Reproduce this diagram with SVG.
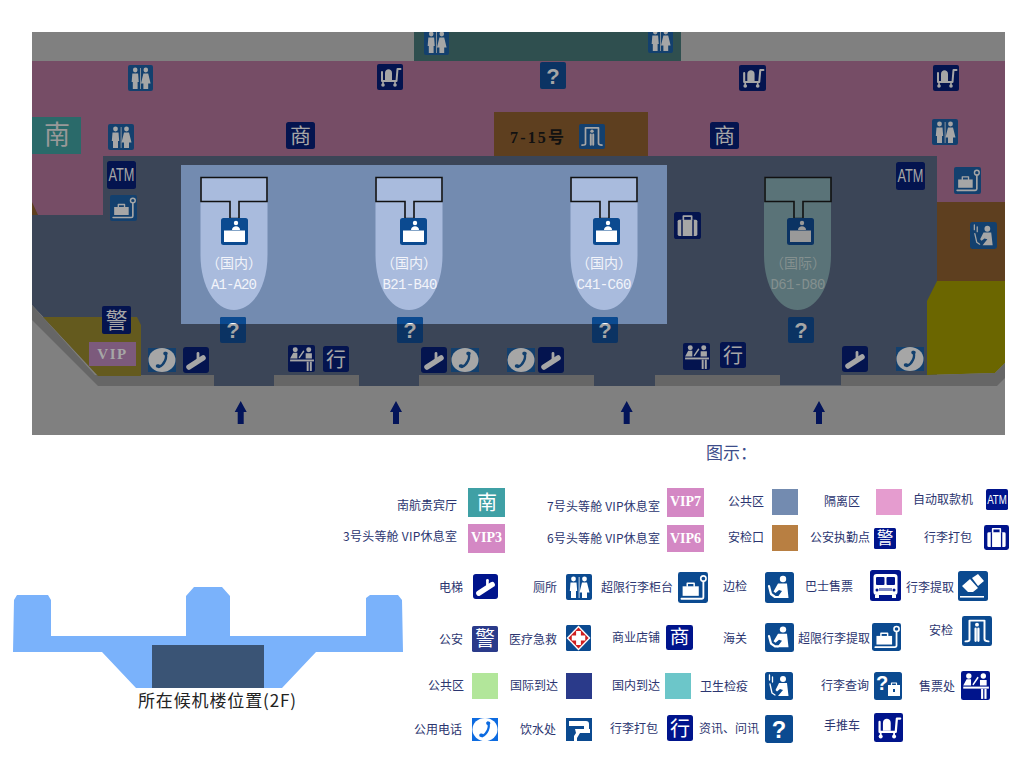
<svg xmlns="http://www.w3.org/2000/svg" width="1032" height="781" viewBox="0 0 1032 781">
<style>
text{font-family:"Noto Sans CJK SC","Liberation Sans",sans-serif}
.l{font-size:12px;fill:#2b3570;text-anchor:end}
.g{fill:var(--g)}
.s{fill:none;stroke:var(--g);stroke-linecap:round;stroke-linejoin:round}
.b{fill:currentColor}
.mb{color:#13406e;--g:#a6a6a6}
.mn{color:#04144f;--g:#a6a6a6}
.mq{color:#0b3363;--g:#a6a6a6}
.hq{color:#0b4a90;--g:#fff}
.lb{color:#0b4a90;--g:#fff}
.ln{color:#00148c;--g:#fff}
.lp{color:#2a3a8a;--g:#fff}
.lt{color:#0d6be0;--g:#fff}
.bay{fill:#a9bbdd}
.bay4{fill:#5a7378}
.frame{stroke:#111;stroke-width:1.6}
.bt{font-size:14px;text-anchor:middle;fill:#f2f4fa}
.bc{font-family:"Liberation Mono",monospace;font-size:14px;text-anchor:middle;fill:#f2f4fa}
.vt{font-family:"Liberation Serif",serif;font-weight:bold;font-size:14px;fill:#fff;text-anchor:middle}
.arrow{fill:#03145a}
</style>
<defs>
<clipPath id="mapclip"><rect x="32" y="32" width="973" height="403"/></clipPath>
<clipPath id="blueclip"><rect x="181" y="165" width="486" height="159"/></clipPath>
<symbol id="toilet" viewBox="0 0 26 26" preserveAspectRatio="none"><rect class="b" width="26" height="26" rx="2"/><circle class="g" cx="7.500" cy="5" r="2.400"/><path class="g" d="M4.500 8.500h6l.7 8.500H10v7H5v-7H3.800z"/><rect class="g" x="12.700" y="3" width=".8" height="21"/><circle class="g" cx="18.500" cy="5" r="2.400"/><path class="g" d="M16 8.500h5l2.500 10H21v5.500h-5v-5.500h-2.500z"/></symbol>
<symbol id="cart" viewBox="0 0 26 26" preserveAspectRatio="none"><rect class="b" width="26" height="26" rx="2"/><path class="g" d="M8 9c0-5 7-5 7 0v7H8z"/><path class="s" stroke-width="2" d="M23.500 5h-3l-1 12H5V8"/><path class="s" stroke-width="1.600" d="M6 17v3M18 17v3"/><circle class="g" cx="6" cy="21" r="1.800"/><circle class="g" cx="18" cy="21" r="1.800"/></symbol>
<symbol id="atm" viewBox="0 0 29 28" preserveAspectRatio="none"><rect class="b" width="29" height="28" rx="2.500"/><text class="g" x="1.500" y="20" font-size="18" textLength="26" lengthAdjust="spacingAndGlyphs" style="font-family:'Liberation Sans',sans-serif">ATM</text></symbol>
<symbol id="scale" viewBox="0 0 26 26" preserveAspectRatio="none"><rect class="b" width="26" height="26" rx="2"/><rect class="g" x="4" y="12" width="14" height="8"/><path class="s" stroke-width="1.300" d="M8 12V9.500h6V12"/><path class="s" stroke-width="1.600" d="M3 22.500h17.500a1.500 1.500 0 0 0 1.500-1.500V8"/><circle class="s" stroke-width="1.400" cx="22" cy="5.500" r="2.300"/></symbol>
<symbol id="question" viewBox="0 0 26 26" preserveAspectRatio="none"><rect class="b" width="26" height="26" rx="2"/><text class="g" x="13" y="21" font-size="22" font-weight="bold" text-anchor="middle" style="font-family:'Liberation Sans',sans-serif">?</text></symbol>
<symbol id="door" viewBox="0 0 26 26" preserveAspectRatio="none"><rect class="b" width="26" height="26" rx="2"/><path class="s" stroke-width="1.700" d="M6.500 20.500V4h13v16c0 1.500 1 2 3.500 2M6.500 20.500c0 1-1 1.500-3.500 1.500"/><circle class="g" cx="13" cy="7.500" r="1.700"/><path class="s" stroke-width="2" d="M11.800 11v10.500M14.200 11v10.500"/></symbol>
<symbol id="esc" viewBox="0 0 26 26" preserveAspectRatio="none"><rect class="b" width="26" height="26" rx="3"/><path class="s" stroke-width="5.500" d="M6 20l14-9"/><path class="s" stroke-width="2.800" d="M15 6.500v7"/></symbol>
<symbol id="phone" viewBox="0 0 28 24" preserveAspectRatio="none"><rect class="b" width="28" height="24"/><ellipse class="g" cx="14" cy="12" rx="13.500" ry="12"/><path fill="none" stroke="currentColor" stroke-width="2.400" stroke-linecap="round" d="M17 5c3 4-1 12-6 14"/><path fill="none" stroke="currentColor" stroke-width="3.500" stroke-linecap="round" d="M17 5.500h1M9.500 18h1"/></symbol>
<symbol id="ticket" viewBox="0 0 26 26" preserveAspectRatio="none"><rect class="b" width="26" height="26" rx="2"/><circle class="g" cx="7" cy="4.500" r="2.400"/><circle class="g" cx="20" cy="4.500" r="2.400"/><path class="g" d="M2 13l3-5.500h4L9 13zM17 8h6v5h-6z"/><path class="s" stroke-width="1.400" d="M11 12l4-6"/><rect class="g" x="2" y="14" width="23" height="1.800"/><rect class="g" x="18" y="16" width="1.900" height="9"/><rect class="g" x="21" y="16" width="1.900" height="9"/></symbol>
<symbol id="xing" viewBox="0 0 26 26" preserveAspectRatio="none"><rect class="b" width="26" height="26" rx="2.500"/><text class="g" x="13" y="20.500" font-size="20" text-anchor="middle">行</text></symbol>
<symbol id="shang" viewBox="0 0 29 27" preserveAspectRatio="none"><rect class="b" width="29" height="27" rx="2.500"/><text class="g" x="14.500" y="21" font-size="21" text-anchor="middle">商</text></symbol>
<symbol id="jing" viewBox="0 0 29 28" preserveAspectRatio="none"><rect class="b" width="29" height="28" rx="2"/><text class="g" x="14.500" y="21.500" font-size="22" text-anchor="middle">警</text></symbol>
<symbol id="case" viewBox="0 0 26 26" preserveAspectRatio="none"><rect class="b" width="26" height="26" rx="2.500"/><rect class="g" x="3.500" y="7.500" width="19" height="15.500" rx="1.500"/><path class="s" stroke-width="1.600" d="M9 7.500V4h8v3.500"/><rect class="b" x="7" y="7.500" width="1.400" height="15.500"/><rect class="b" x="17.600" y="7.500" width="1.400" height="15.500"/></symbol>
<symbol id="desk" viewBox="0 0 27 27" preserveAspectRatio="none"><rect class="b" width="27" height="27" rx="2.500"/><circle class="g" cx="15" cy="5" r="2.200"/><path class="g" d="M11 12c0-5 8-5 8 0z"/><path class="g" d="M3 12.500h21V24H3z"/></symbol>
<symbol id="officer" viewBox="0 0 29 31" preserveAspectRatio="none"><rect class="b" width="29" height="31" rx="2.500"/><circle class="g" cx="18" cy="7" r="3.200"/><path class="g" d="M13 11.500h9l1.500 14.500H12l5-7-3-1-3.500 3-2-1.500z"/><path class="s" stroke-width="2.200" d="M4 14l2 8 4 3h3"/></symbol>
<symbol id="health" viewBox="0 0 28 28" preserveAspectRatio="none"><rect class="b" width="28" height="28" rx="2.500"/><circle class="g" cx="18" cy="7" r="3"/><path class="g" d="M14 11h8l1.500 13H13l5-6-3-1-3 2.500-1.500-1.500z"/><path class="s" stroke-width="1.300" d="M4.500 3v5M7.500 5v5M5 12l2 9 3 2"/></symbol>
<symbol id="bus" viewBox="0 0 31 31" preserveAspectRatio="none"><rect class="b" width="31" height="31" rx="2.500"/><rect class="g" x="3.500" y="4" width="24" height="21" rx="3"/><rect class="b" x="6" y="7" width="8.500" height="8" rx="1"/><rect class="b" x="16.500" y="7" width="8.500" height="8" rx="1"/><rect class="b" x="9" y="18" width="13" height="3" opacity=".5"/><circle class="b" cx="7" cy="20" r="1.500"/><circle class="b" cx="24" cy="20" r="1.500"/><rect class="g" x="5" y="25" width="4" height="3"/><rect class="g" x="22" y="25" width="4" height="3"/></symbol>
<symbol id="claim" viewBox="0 0 30 30" preserveAspectRatio="none"><rect class="b" width="30" height="30" rx="2.500"/><path class="g" d="M4 15l8-7 8 9-5 4h-5zM14 7l6-4 6 7-6 5z"/><rect class="g" x="2" y="25" width="24" height="1.600"/></symbol>
<symbol id="medical" viewBox="0 0 26 26" preserveAspectRatio="none"><rect class="b" width="26" height="26" rx="1.500"/><path fill="#fff" d="M13 .5L25.500 13 13 25.500.5 13z"/><path fill="#cf1f1f" d="M13 2.500L23.500 13 13 23.500 2.500 13z"/><path fill="#fff" d="M10.500 6h5v4.500H20v5h-4.500V20h-5v-4.500H6v-5h4.500z"/></symbol>
<symbol id="water" viewBox="0 0 26 23" preserveAspectRatio="none"><rect class="b" width="26" height="23"/><path class="g" d="M3 3h17a3 3 0 0 1 3 3v5h-5V8H3zM9 11h15v4H14l-3 5v3H8v-5l2-3z"/></symbol>
<symbol id="bagq" viewBox="0 0 28 28" preserveAspectRatio="none"><rect class="b" width="28" height="28" rx="2.500"/><text class="g" x="8" y="18" font-size="20" font-weight="bold" text-anchor="middle" style="font-family:'Liberation Sans',sans-serif">?</text><rect class="g" x="14" y="13" width="12" height="11"/><path class="s" stroke-width="1.200" d="M17.500 13v-2h5v2"/><rect class="b" x="19" y="17" width="2" height="3"/></symbol>
</defs>

<g id="map" clip-path="url(#mapclip)">
<rect x="32" y="32" width="973" height="403" fill="#808080"/>
<rect id="top-zone" x="414" y="32" width="267" height="29" fill="#2f4f4f"/>
<rect id="isolation" x="32" y="61" width="973" height="170" fill="#764d66"/>
<path fill="#5e3f1f" d="M32 215v-13l6 13z"/>
<path id="public" fill="#3b4557" d="M32 215h71v-59h834v219H98L32 305z"/>
<rect x="937" y="202" width="68" height="79" fill="#5e3f1f"/>
<path fill="#6b6600" d="M927 375v-74l10-20h68v82l-10 10z"/>
<path fill="#3b4557" d="M214 375h60v11h-60zM359 375h60v11h-60zM594 375h61v11h-61zM780 375h61v10.500h-61z"/>
<path fill="#666" d="M32 305l63 70h119v11H98L32 320zM274 375h85v11h-85zM419 375h175v11H419zM655 375h125v11H655zM841 375h86l68-2 10-10v15l-8 8H841z"/>
<path fill="#645a1e" d="M43 317h94l4 8v51H98z"/>
<rect x="89" y="342" width="47" height="24" fill="#7c5a7c"/>
<text x="112.500" y="359" text-anchor="middle" font-size="15" font-weight="bold" letter-spacing="1.500" fill="#a6a6a6" style="font-family:'Liberation Serif',serif">VIP</text>
<rect x="32" y="117" width="49" height="37" fill="#2a6a6a"/>
<text x="57" y="144" text-anchor="middle" font-size="26" fill="#999">南</text>
<rect x="494" y="112" width="154" height="44" fill="#5e3f1f"/>
<text x="510" y="143" font-size="16" font-weight="bold" fill="#111" textLength="54" style="font-family:'Liberation Serif','Noto Sans CJK SC',serif">7-15号</text>
<rect id="domestic" x="181" y="165" width="486" height="159" fill="#738bb0"/>

<g id="bay-a">
<path class="bay" d="M200.500 177h67v78c0 32-15 55-33.500 55s-33.500-23-33.500-55z"/>
<path class="bay frame" d="M201 177.500h66v24h-28v17h-9v-17h-29z"/>
<use href="#desk" class="hq" x="221" y="218" width="27" height="27"/>
<text class="bt" x="234" y="268">（国内）</text><text class="bc" x="234" y="289" textLength="46">A1-A20</text>
</g>
<g id="bay-b">
<path class="bay" d="M375.500 177h67v78c0 32-15 55-33.500 55s-33.500-23-33.500-55z"/>
<path class="bay frame" d="M376 177.500h66v24h-28v17h-9v-17h-29z"/>
<use href="#desk" class="hq" x="400" y="218" width="27" height="27"/>
<text class="bt" x="409" y="268">（国内）</text><text class="bc" x="410" y="289" textLength="55">B21-B40</text>
</g>
<g id="bay-c">
<path class="bay" d="M570.500 177h67v78c0 32-15 55-33.500 55s-33.500-23-33.500-55z"/>
<path class="bay frame" d="M571 177.500h66v24h-28v17h-9v-17h-29z"/>
<use href="#desk" class="hq" x="593" y="218" width="27" height="27"/>
<text class="bt" x="604" y="268">（国内）</text><text class="bc" x="604" y="289" textLength="55">C41-C60</text>
</g>
<g id="bay-d">
<path class="bay4" d="M764 177h67v78c0 32-15 55-33.500 55s-33.500-23-33.500-55z"/>
<path class="bay4 frame" d="M765 177.500h66v24h-28v17h-9v-17h-29z"/>
<use href="#desk" style="color:#0b3363;--g:#999" x="787" y="218" width="27" height="27"/>
<text class="bt" x="798" y="268" style="fill:#84908f">（国际）</text><text class="bc" x="798" y="289" textLength="55" style="fill:#84908f">D61-D80</text>
</g>

<g id="map-icons">
<use href="#toilet" class="mb" x="424" y="29" width="25" height="26"/>
<use href="#toilet" class="mb" x="648" y="27" width="25" height="26"/>
<use href="#toilet" class="mb" x="128" y="65" width="25" height="26"/>
<use href="#cart" class="mn" x="377" y="64" width="26" height="26"/>
<use href="#question" class="mq" x="540" y="62" width="26" height="27"/>
<use href="#cart" class="mn" x="739" y="65" width="27" height="26"/>
<use href="#cart" class="mn" x="933" y="65" width="26" height="26"/>
<use href="#toilet" class="mb" x="108" y="124" width="26" height="26"/>
<use href="#shang" class="mn" x="286" y="122" width="29" height="27"/>
<use href="#door" class="mb" x="579" y="124" width="26" height="25"/>
<use href="#shang" class="mn" x="710" y="122" width="29" height="27"/>
<use href="#toilet" class="mb" x="932" y="119" width="26" height="26"/>
<use href="#atm" class="mn" x="107" y="161" width="29" height="28"/>
<use href="#scale" class="mb" x="110" y="195" width="27" height="26"/>
<use href="#atm" class="mn" x="896" y="162" width="29" height="28"/>
<use href="#scale" class="mb" x="954" y="167" width="27" height="27"/>
<use href="#case" class="mn" x="674" y="212" width="27" height="27"/>
<use href="#health" class="mb" x="970" y="222" width="27" height="27"/>
<use href="#jing" class="mn" x="102" y="306" width="29" height="28"/>
<use href="#question" class="mq" x="220" y="317" width="26" height="26"/>
<use href="#question" class="mq" x="397" y="317" width="26" height="26"/>
<use href="#question" class="mq" x="592" y="317" width="26" height="26"/>
<use href="#question" class="mq" x="788" y="317" width="26" height="26"/>
<g clip-path="url(#blueclip)">
<use href="#question" class="hq" x="220" y="317" width="26" height="26"/>
<use href="#question" class="hq" x="397" y="317" width="26" height="26"/>
<use href="#question" class="hq" x="592" y="317" width="26" height="26"/>
</g>
<use href="#phone" class="mb" x="148" y="348" width="28" height="24"/>
<use href="#esc" class="mn" x="183" y="347" width="26" height="26"/>
<use href="#ticket" class="mn" x="288" y="345" width="27" height="27"/>
<use href="#xing" class="mn" x="323" y="346" width="26" height="26"/>
<use href="#esc" class="mn" x="421" y="347" width="26" height="26"/>
<use href="#phone" class="mb" x="451" y="348" width="28" height="24"/>
<use href="#phone" class="mb" x="507" y="348" width="28" height="24"/>
<use href="#esc" class="mn" x="538" y="347" width="26" height="26"/>
<use href="#ticket" class="mn" x="683" y="343" width="27" height="27"/>
<use href="#xing" class="mn" x="720" y="342" width="26" height="26"/>
<use href="#esc" class="mn" x="842" y="346" width="26" height="26"/>
<use href="#phone" class="mb" x="896" y="347" width="28" height="24"/>
</g>
<g id="arrows" class="arrow">
<path d="M240.700 401l6 11h-3v12h-6v-12h-3z"/>
<path d="M396 401l6 11h-3v12h-6v-12h-3z"/>
<path d="M626.700 401l6 11h-3v12h-6v-12h-3z"/>
<path d="M819 401l6 11h-3v12h-6v-12h-3z"/>
</g>
</g>

<text id="legend-title" x="706" y="459" font-size="17" fill="#3d4d8a">图示：</text>

<g id="legend">
<text class="l" x="457" y="510">南航贵宾厅</text>
<rect x="468" y="488" width="37" height="29" fill="#3fa0a5"/><text x="487" y="510" font-size="20" fill="#fff" text-anchor="middle">南</text>
<text class="l" x="457" y="541" textLength="114">3号头等舱 VIP休息室</text>
<rect x="468" y="524" width="37" height="29" fill="#d488c4"/><text class="vt" x="486.500" y="542">VIP3</text>
<text class="l" x="660" y="511" textLength="113">7号头等舱 VIP休息室</text>
<rect x="667" y="488" width="37" height="29" fill="#d488c4"/><text class="vt" x="685.500" y="506">VIP7</text>
<text class="l" x="660" y="543" textLength="113">6号头等舱 VIP休息室</text>
<rect x="667" y="525" width="37" height="27" fill="#d488c4"/><text class="vt" x="685.500" y="543">VIP6</text>
<text class="l" x="764" y="506">公共区</text><rect x="772" y="489" width="26" height="26" fill="#738bb0"/>
<text class="l" x="860" y="506">隔离区</text><rect x="876" y="489" width="26" height="26" fill="#e59ccf"/>
<text class="l" x="973" y="504">自动取款机</text><use href="#atm" class="ln" x="986" y="489" width="22" height="21"/>
<text class="l" x="764" y="542">安检口</text><rect x="772" y="525" width="26" height="26" fill="#b87f42"/>
<text class="l" x="870" y="542">公安执勤点</text><use href="#jing" class="ln" x="874" y="528" width="22" height="21"/>
<text class="l" x="972" y="542">行李打包</text><use href="#case" class="ln" x="984" y="525" width="25" height="25"/>

<text class="l" x="463" y="592">电梯</text><use href="#esc" class="ln" x="473" y="574" width="25" height="25"/>
<text class="l" x="557" y="592">厕所</text><use href="#toilet" class="lb" x="566" y="574" width="26" height="26"/>
<text class="l" x="673" y="592">超限行李柜台</text><use href="#scale" class="lb" x="678" y="572" width="30" height="31"/>
<text class="l" x="747" y="591">边检</text><use href="#officer" class="lb" x="765" y="572" width="29" height="31"/>
<text class="l" x="853" y="591">巴士售票</text><use href="#bus" class="ln" x="870" y="570" width="31" height="31"/>
<text class="l" x="954" y="592">行李提取</text><use href="#claim" class="lb" x="958" y="571" width="30" height="30"/>

<text class="l" x="463" y="644">公安</text><use href="#jing" class="lp" x="472" y="626" width="26" height="26"/>
<text class="l" x="557" y="644">医疗急救</text><use href="#medical" class="lb" x="566" y="625" width="25" height="26"/>
<text class="l" x="660" y="642">商业店铺</text><use href="#shang" class="ln" x="666" y="625" width="27" height="25"/>
<text class="l" x="747" y="643">海关</text><use href="#officer" class="lb" x="765" y="623" width="29" height="29"/>
<text class="l" x="870" y="643">超限行李提取</text><use href="#scale" class="lb" x="872" y="623" width="29" height="28"/>
<text class="l" x="953" y="635">安检</text><use href="#door" class="lb" x="962" y="616" width="30" height="30"/>

<text class="l" x="464" y="690">公共区</text><rect x="472" y="673" width="26" height="26" fill="#b2e69a"/>
<text class="l" x="558" y="690">国际到达</text><rect x="566" y="673" width="26" height="26" fill="#2a3a8a"/>
<text class="l" x="660" y="690">国内到达</text><rect x="665" y="673" width="26" height="26" fill="#6cc6c9"/>
<text class="l" x="748" y="691">卫生检疫</text><use href="#health" class="lb" x="765" y="672" width="28" height="28"/>
<text class="l" x="869" y="690">行李查询</text><use href="#bagq" class="lb" x="874" y="672" width="28" height="28"/>
<text class="l" x="955" y="691">售票处</text><use href="#ticket" class="ln" x="961" y="671" width="29" height="29"/>

<text class="l" x="462" y="734">公用电话</text><use href="#phone" class="lt" x="472" y="718" width="26" height="23"/>
<text class="l" x="556" y="734">饮水处</text><use href="#water" class="lb" x="566" y="718" width="26" height="23"/>
<text class="l" x="658" y="733">行李打包</text><use href="#xing" class="ln" x="667" y="715" width="26" height="26"/>
<text class="l" x="759" y="733">资讯、问讯</text><use href="#question" class="lb" x="765" y="715" width="28" height="28"/>
<text class="l" x="860" y="730">手推车</text><use href="#cart" class="ln" x="874" y="713" width="29" height="29"/>
</g>

<g id="locator">
<path fill="#7ab2fb" d="M14 600l3-5h31l3 5v36h135v-40l8-9h28l8 9v40h136v-38l4-3h28l4 5 1 52h-87l-34 36H136l-34-36H13z"/>
<rect x="152" y="645" width="112" height="43" fill="#3a5475"/>
<text x="217" y="707" font-size="17" fill="#222" text-anchor="middle" textLength="158">所在候机楼位置(2F)</text>
</g>
</svg>
